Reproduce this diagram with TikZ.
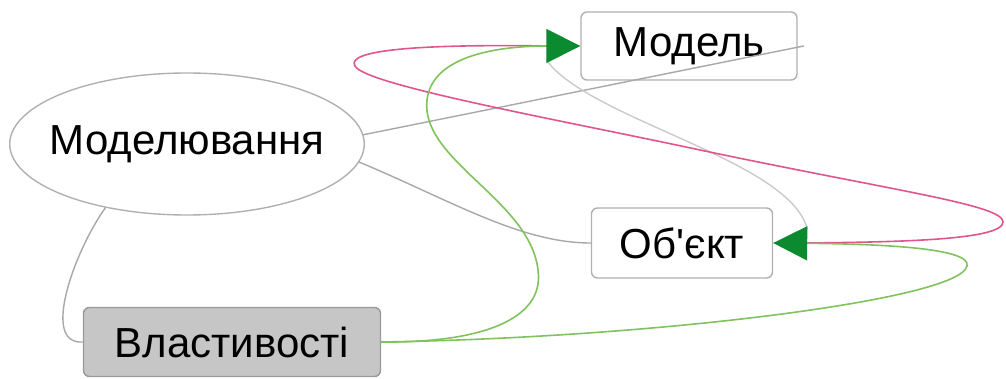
\documentclass[tikz,border=0pt]{standalone}
\usepackage{fontspec}
\setmainfont{Liberation Sans}[Ligatures=TeXOff]
\usetikzlibrary{arrows.meta,shapes.geometric}
\definecolor{edgegray}{HTML}{A8A8A8}
\definecolor{lightgray}{HTML}{CACACA}
\definecolor{boxgray}{HTML}{B0B0B0}
\definecolor{propfill}{HTML}{C6C6C6}
\definecolor{linkpink}{HTML}{E2558C}
\definecolor{linkgreen}{HTML}{80C25E}
\definecolor{tipgreen}{HTML}{0B8A30}
\begin{document}
\begin{tikzpicture}[
    x=0.5pt,
    y=-0.5pt,
    line join=round,
    line cap=round,
    label/.style={font=\fontsize{21}{25}\selectfont, inner sep=0pt, align=center},
    box/.style={label, draw=boxgray, fill=white, rounded corners=3pt, line width=0.7pt},
    tip/.style={-{Triangle[length=17pt,width=17pt,color=tipgreen]}},
    tie/.style={draw=edgegray, line width=0.7pt}
]
    \useasboundingbox (0,0) rectangle (1006,379);

    % вузли
    \node[label, ellipse, draw=boxgray, line width=0.7pt, inner xsep=-6pt, minimum height=71pt] (modeling) at (187,144) {Моделювання};
    \node[box, minimum width=108pt, minimum height=34pt] (model) at (689,46) {Модель};
    \node[box, minimum width=90.5pt, minimum height=35pt] (object) at (682,243) {Об'єкт};
    \node[box, fill=propfill, draw=gray!80, minimum width=148.5pt, minimum height=34.5pt] (props) at (232,342) {Властивості};

    % основи стрілок
    \coordinate (mbase) at ([xshift=-17pt]model.west);
    \coordinate (obase) at ([xshift=17pt]object.east);

    % сірі зв'язки
    \draw[tie] (modeling.3) -- ([xshift=3pt]model.east);
    \draw[tie] (modeling.-6) .. controls (450,200) and (520,243) .. (object.west);
    \draw[tie] (modeling.-142) .. controls (75,250) and (40,345) .. (props.west);
    \draw[draw=lightgray, line width=0.7pt] ([yshift=-7pt]mbase) .. controls (590,120) and (790,160) .. ([yshift=7pt]obase);

    % рожева петля
    \draw[linkpink, line width=0.8pt] (mbase) .. controls (420,44) and (345,50) .. (355,66)
        .. controls (365,85) and (560,120) .. (700,150)
        .. controls (900,192) and (1003,205) .. (1003,222)
        .. controls (1003,240) and (900,242) .. (obase);

    % зелені стрілки
    \draw[linkgreen, line width=0.8pt, tip] (props.east) .. controls (480,343) and (545,320) .. (538,270)
        .. controls (530,200) and (420,160) .. (427,100)
        .. controls (432,55) and (500,46) .. (model.west);
    \draw[linkgreen, line width=0.8pt, tip] (props.east) .. controls (650,338) and (960,300) .. (967,266)
        .. controls (972,248) and (880,244) .. (object.east);

\end{tikzpicture}
\end{document}
